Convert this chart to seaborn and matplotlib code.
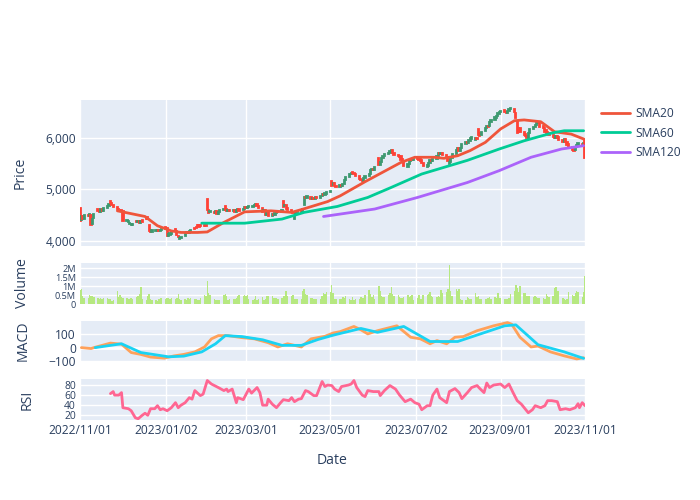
import numpy as np
import pandas as pd
import matplotlib
matplotlib.use('Agg')
import matplotlib.pyplot as plt
from matplotlib.lines import Line2D
import seaborn as sns

# --- dati (giorni lavorativi 2022-11-01 .. 2023-11-01) ---
dates = pd.bdate_range('2022-11-01', '2023-11-01')

open_ = [
    4640, 4400, 4480, 4430,
    4500, 4470, 4500, 4320, 4440,  4620, 4570, 4550, 4610, 4580,
    4640, 4670, 4770, 4740, 4690,  4660, 4610, 4600, 4590, 4580,
    4380, 4370, 4330, 4300, 4310,  4380, 4360, 4390, 4350, 4400,
    4440, 4460, 4300, 4200, 4170,  4180, 4190, 4200, 4190, 4210,
    4260, 4240, 4100, 4120, 4130,  4220, 4180, 4090, 4030, 4050,
    4100, 4140, 4160, 4140, 4180,  4250, 4260, 4300, 4300, 4300,
    4310, 4300, 4800, 4600, 4550,  4560, 4530, 4570, 4520, 4560,
    4600, 4680, 4610, 4580, 4600,  4570, 4600, 4560, 4590, 4610,
    4590, 4620, 4660, 4630, 4660,  4650, 4670, 4690, 4710, 4680,
    4640, 4580, 4600, 4500, 4560,  4480, 4520, 4500, 4540, 4570,
    4560, 4770, 4680, 4700, 4630,  4590, 4560, 4430, 4490, 4550,
    4580, 4580, 4700, 4840, 4820,  4850, 4800, 4830, 4810, 4850,
    4830, 4870, 4900, 4880, 4910,  4940, 5160, 5080, 5120, 5060,
    5040, 5090, 5060, 5110, 5180,  5230, 5290, 5340, 5320, 5300,
    5250, 5200, 5180, 5150, 5210,  5250, 5300, 5370, 5400, 5380,
    5600, 5470, 5530, 5600, 5640,  5680, 5700, 5730, 5760, 5700,
    5670, 5650, 5640, 5580, 5540,  5440, 5480, 5540, 5580, 5560,
    5620, 5590, 5580, 5560, 5500,  5440, 5460, 5500, 5560, 5540,
    5580, 5650, 5700, 5680, 5710,  5660, 5620, 5480, 5520, 5600,
    5680, 5760, 5800, 5750, 5800,  5880, 5920, 5900, 5940, 5980,
    5960, 6000, 6170, 6100, 6050,  6130, 6180, 6220, 6220, 6300,
    6340, 6390, 6420, 6460, 6490,  6540, 6500, 6480, 6520, 6550,
    6560, 6480, 6330, 6190, 6180,  6110, 6080, 6040, 6000, 6100,
    6160, 6200, 6240, 6280, 6310,  6230, 6190, 6140, 6120, 6100,
    6060, 6040, 6000, 6030, 6010,  5960, 5910, 5970, 5920, 5870,
    5820, 5780, 5760, 5820, 5850,
    5880, 5850, 5980,
]
close = [
    4390, 4480, 4430, 4500,
    4470, 4520, 4310, 4430, 4520,  4570, 4550, 4610, 4580, 4640,
    4670, 4720, 4740, 4690, 4660,  4610, 4570, 4590, 4570, 4390,
    4400, 4380, 4350, 4330, 4330,  4360, 4390, 4350, 4380, 4370,
    4430, 4420, 4180, 4160, 4200,  4200, 4210, 4190, 4200, 4230,
    4220, 4100, 4130, 4150, 4160,  4180, 4120, 4070, 4060, 4080,
    4150, 4170, 4140, 4180, 4210,  4230, 4240, 4280, 4270, 4290,
    4280, 4290, 4590, 4540, 4570,  4530, 4570, 4520, 4560, 4600,
    4620, 4600, 4580, 4600, 4570,  4600, 4560, 4590, 4610, 4580,
    4620, 4650, 4630, 4660, 4680,  4670, 4700, 4710, 4680, 4640,
    4560, 4600, 4500, 4540, 4480,  4520, 4490, 4540, 4570, 4550,
    4590, 4650, 4700, 4620, 4590,  4560, 4540, 4480, 4560, 4580,
    4560, 4620, 4840, 4820, 4860,  4800, 4830, 4810, 4850, 4830,
    4870, 4900, 4880, 4920, 4950,  4970, 5070, 5120, 5060, 5040,
    5090, 5060, 5110, 5180, 5230,  5290, 5320, 5310, 5290, 5250,
    5200, 5170, 5150, 5210, 5250,  5300, 5370, 5400, 5380, 5430,
    5470, 5530, 5600, 5640, 5680,  5700, 5740, 5770, 5700, 5660,
    5640, 5620, 5570, 5540, 5460,  5480, 5540, 5580, 5560, 5590,
    5580, 5570, 5540, 5500, 5460,  5470, 5500, 5560, 5540, 5580,
    5650, 5700, 5680, 5710, 5660,  5600, 5540, 5520, 5600, 5680,
    5760, 5800, 5750, 5800, 5880,  5920, 5900, 5960, 5990, 6010,
    6000, 5970, 6060, 6040, 6120,  6190, 6230, 6200, 6300, 6350,
    6400, 6430, 6470, 6500, 6520,  6490, 6470, 6520, 6560, 6570,
    6490, 6390, 6090, 6120, 6110,  6060, 6030, 6000, 6100, 6160,
    6210, 6250, 6290, 6300, 6210,  6180, 6120, 6100, 6080, 6050,
    6020, 6000, 6030, 5990, 5950,  5910, 5980, 5920, 5860, 5800,
    5770, 5750, 5820, 5860, 5890,
    5840, 5900, 5610,
]
volume_m = [
    0.77, 0.86, 0.47, 0.36,
    0.36, 0.50, 0.45, 0.45, 0.40,  0.35, 0.30, 0.32, 0.30, 0.33,
    0.32, 0.30, 0.30, 0.15, 0.20,  0.74, 0.40, 0.50, 0.40, 0.35,
    0.35, 0.30, 0.30, 0.35, 0.30,  0.40, 0.45, 0.55, 0.95, 0.30,
    0.25, 0.45, 0.55, 0.30, 0.20,  0.20, 0.15, 0.30, 0.32, 0.35,
    0.30, 0.35, 0.32, 0.30, 0.35,  0.30, 0.35, 0.55, 0.30, 0.25,
    0.30, 0.25, 0.35, 0.30, 0.35,  0.30, 0.30, 0.20, 0.25, 0.35,
    0.50, 0.45, 1.26, 0.60, 0.50,  0.30, 0.25, 0.20, 0.20, 0.25,
    0.50, 0.55, 0.45, 0.25, 0.30,  0.30, 0.30, 0.35, 0.45, 0.50,
    0.45, 0.50, 0.45, 0.50, 0.30,  0.25, 0.30, 0.45, 0.25, 0.30,
    0.40, 0.20, 0.30, 0.45, 0.45,  0.45, 0.35, 0.35, 0.35, 0.30,
    0.35, 0.45, 0.45, 0.70, 0.45,  0.45, 0.50, 0.30, 0.30, 0.30,
    0.30, 0.70, 0.85, 0.55, 0.50,  0.35, 0.35, 0.30, 0.30, 0.30,
    0.30, 0.45, 0.60, 0.55, 0.65,  0.65, 1.04, 0.60, 0.30, 0.30,
    0.30, 0.30, 0.40, 0.35, 0.45,  0.30, 0.20, 0.40, 0.25, 0.30,
    0.30, 0.40, 0.35, 0.35, 0.50,  0.80, 0.55, 0.40, 0.50, 0.30,
    1.00, 0.75, 0.45, 0.40, 0.40,  0.50, 0.60, 0.95, 0.55, 0.45,
    0.50, 0.40, 0.35, 0.35, 0.40,  0.50, 0.40, 0.45, 0.50, 0.25,
    0.35, 0.50, 0.30, 0.30, 0.50,  0.50, 0.55, 0.65, 0.45, 0.40,
    0.40, 0.45, 0.40, 0.80, 0.60,  0.65, 0.85, 2.15, 0.70, 0.45,
    0.85, 0.70, 0.85, 0.30, 0.25,  0.25, 0.40, 0.35, 0.30, 0.30,
    0.60, 0.40, 0.45, 0.30, 0.30,  0.30, 0.30, 0.35, 0.40, 0.30,
    0.40, 0.35, 0.60, 0.35, 0.35,  0.30, 0.30, 0.30, 0.35, 0.55,
    0.75, 1.05, 0.90, 0.65, 1.00,  0.60, 0.60, 0.45, 0.45, 0.45,
    0.40, 0.45, 0.40, 0.35, 0.35,  0.35, 0.30, 0.55, 0.45, 0.40,
    0.45, 0.90, 0.95, 0.70, 0.75,  0.35, 0.30, 0.25, 0.30, 0.65,
    0.50, 0.45, 0.60, 0.75, 0.65,
    0.40, 0.65, 1.55,
]

# medie mobili
sma20_dates = ['2022-11-28', '2022-12-18', '2022-12-27', '2023-01-06', '2023-01-13', '2023-01-25',
               '2023-02-01', '2023-02-13', '2023-02-28', '2023-03-19', '2023-04-03', '2023-04-12',
               '2023-04-29', '2023-05-08', '2023-05-26', '2023-06-21', '2023-07-01', '2023-07-15',
               '2023-07-22', '2023-08-01', '2023-08-10', '2023-08-21', '2023-09-01', '2023-09-11',
               '2023-09-18', '2023-09-30', '2023-10-10', '2023-10-22', '2023-10-31']
sma20 = [4580, 4470, 4290, 4190, 4160, 4160, 4170, 4355, 4560, 4580, 4550, 4620, 4760, 4870, 5145,
         5520, 5620, 5620, 5600, 5650, 5750, 5910, 6170, 6330, 6345, 6310, 6115, 6070, 5975]
sma60_dates = ['2023-01-28', '2023-02-28', '2023-03-27', '2023-04-12', '2023-05-06', '2023-05-28',
               '2023-06-14', '2023-07-06', '2023-08-08', '2023-08-31', '2023-09-18', '2023-10-08',
               '2023-10-17', '2023-10-31']
sma60 = [4340, 4340, 4420, 4550, 4665, 4840, 5035, 5295, 5560, 5780, 5940, 6090, 6135, 6135]
sma120_dates = ['2023-04-26', '2023-06-02', '2023-07-03', '2023-08-08', '2023-08-31', '2023-09-23',
                '2023-10-15', '2023-10-31']
sma120 = [4470, 4615, 4840, 5130, 5360, 5620, 5780, 5845]

# MACD e linea di segnale
macd_dates = ['2022-11-02', '2022-11-09', '2022-11-11', '2022-11-23', '2022-12-01', '2022-12-08',
              '2022-12-15', '2022-12-22', '2023-01-01', '2023-01-08', '2023-01-15', '2023-01-23',
              '2023-01-30', '2023-02-04', '2023-02-09', '2023-02-16', '2023-02-26', '2023-03-07',
              '2023-03-17', '2023-03-24', '2023-03-31', '2023-04-10', '2023-04-17', '2023-04-27',
              '2023-05-03', '2023-05-08', '2023-05-18', '2023-05-23', '2023-05-28', '2023-06-04',
              '2023-06-18', '2023-06-28', '2023-07-05', '2023-07-12', '2023-07-17', '2023-07-24',
              '2023-07-30', '2023-08-05', '2023-08-15', '2023-08-27', '2023-09-06', '2023-09-09',
              '2023-09-15', '2023-09-23', '2023-09-28', '2023-10-07', '2023-10-17', '2023-10-26',
              '2023-10-31']
macd = [0, -7, 0, 34, 26, -37, -51, -71, -79, -62, -51, -32, 5, 66, 90, 90, 75, 66, 37, 5, 29, 5,
        66, 85, 110, 120, 159, 134, 103, 127, 164, 78, 66, 29, 53, 29, 78, 83, 127, 164, 188, 176,
        78, 5, 12, -32, -62, -85, -76]
signal_dates = ['2022-11-12', '2022-12-01', '2022-12-15', '2023-01-04', '2023-01-15', '2023-01-28',
                '2023-02-07', '2023-02-14', '2023-02-26', '2023-03-13', '2023-03-27', '2023-04-10',
                '2023-04-22', '2023-05-04', '2023-05-23', '2023-06-04', '2023-06-23', '2023-07-12',
                '2023-08-01', '2023-09-04', '2023-09-12', '2023-09-28', '2023-10-17', '2023-10-31']
signal = [0, 29, -37, -69, -64, -32, 29, 90, 83, 59, 17, 17, 61, 96, 144, 115, 159, 46, 46, 164,
          171, 22, -32, -81]

# RSI
rsi_dates = ['2022-11-23', '2022-11-25', '2022-11-26', '2022-11-29', '2022-12-01', '2022-12-02',
             '2022-12-06', '2022-12-08', '2022-12-11', '2022-12-13', '2022-12-16', '2022-12-18',
             '2022-12-20', '2022-12-22', '2022-12-25', '2022-12-27', '2022-12-29', '2022-12-31',
             '2023-01-03', '2023-01-06', '2023-01-09', '2023-01-11', '2023-01-13', '2023-01-16',
             '2023-01-19', '2023-01-21', '2023-01-23', '2023-01-27', '2023-01-29', '2023-02-01',
             '2023-02-04', '2023-02-09', '2023-02-13', '2023-02-15', '2023-02-16', '2023-02-19',
             '2023-02-22', '2023-02-23', '2023-02-27', '2023-03-03', '2023-03-05', '2023-03-09',
             '2023-03-11', '2023-03-13', '2023-03-16', '2023-03-17', '2023-03-20', '2023-03-23',
             '2023-03-26', '2023-03-28', '2023-04-01', '2023-04-03', '2023-04-05', '2023-04-08',
             '2023-04-10', '2023-04-13', '2023-04-15', '2023-04-19', '2023-04-21', '2023-04-25',
             '2023-04-27', '2023-04-29', '2023-05-02', '2023-05-04', '2023-05-07', '2023-05-09',
             '2023-05-14', '2023-05-16', '2023-05-18', '2023-05-20', '2023-05-24', '2023-05-26',
             '2023-05-28', '2023-06-01', '2023-06-05', '2023-06-06', '2023-06-09', '2023-06-13',
             '2023-06-17', '2023-06-20', '2023-06-24', '2023-06-28', '2023-07-01', '2023-07-04',
             '2023-07-06', '2023-07-10', '2023-07-12', '2023-07-14', '2023-07-17', '2023-07-19',
             '2023-07-22', '2023-07-24', '2023-07-26', '2023-07-30', '2023-08-02', '2023-08-04',
             '2023-08-08', '2023-08-11', '2023-08-15', '2023-08-17', '2023-08-20', '2023-08-22',
             '2023-08-24', '2023-08-27', '2023-09-01', '2023-09-04', '2023-09-07', '2023-09-10',
             '2023-09-13', '2023-09-16', '2023-09-21', '2023-09-24', '2023-09-26', '2023-09-30',
             '2023-10-03', '2023-10-05', '2023-10-08', '2023-10-12', '2023-10-14', '2023-10-18',
             '2023-10-21', '2023-10-25', '2023-10-27', '2023-10-28', '2023-10-30', '2023-11-01']
rsi = [63, 67, 60, 60, 65, 35, 33, 29, 15, 13, 20, 24, 20, 33, 33, 39, 31, 33, 29, 35, 45, 35, 40,
       45, 55, 52, 69, 59, 62, 89, 82, 75, 69, 72, 67, 72, 45, 55, 51, 72, 64, 75, 65, 40, 40, 52,
       42, 35, 45, 51, 49, 55, 47, 52, 53, 69, 67, 59, 59, 87, 77, 80, 79, 72, 67, 77, 80, 82, 89,
       75, 60, 57, 69, 67, 67, 59, 69, 79, 72, 60, 47, 52, 45, 42, 31, 39, 39, 60, 72, 55, 49, 45,
       67, 73, 65, 53, 65, 75, 79, 73, 65, 84, 75, 80, 82, 75, 82, 65, 49, 42, 25, 31, 39, 35, 39,
       49, 49, 47, 31, 33, 31, 35, 43, 35, 45, 39]

tick_dates = ['2022-11-01', '2023-01-02', '2023-03-01', '2023-05-01', '2023-07-02', '2023-09-01', '2023-11-01']
tick_labels = ['2022/11/01', '2023/01/02', '2023/03/01', '2023/05/01', '2023/07/02', '2023/09/01', '2023/11/01']

# --- stile ---
sns.set_style('darkgrid', {'axes.facecolor': '#E5ECF6', 'grid.color': 'white'})
plt.rcParams['font.family'] = ['Open Sans', 'DejaVu Sans']
TXT = '#2a3f5f'
FS = 8.64   # 12px
FST = 10.08  # 14px

fig = plt.figure(figsize=(7, 5), dpi=100)
W, H = 700, 500


def box(x0, y0, x1, y1):
    return [x0 / W, 1 - y1 / H, (x1 - x0) / W, (y1 - y0) / H]


ax_p = fig.add_axes(box(80, 100, 585, 246))
ax_v = fig.add_axes(box(80, 263, 585, 304), sharex=ax_p)
ax_m = fig.add_axes(box(80, 321, 585, 362), sharex=ax_p)
ax_r = fig.add_axes(box(80, 379, 585, 420), sharex=ax_p)

o = np.array(open_, dtype=float)
c = np.array(close, dtype=float)
up = c >= o
colors = np.where(up, '#3D9970', '#FF4136')

# candele
ax_p.bar(dates, c - o, bottom=o, width=0.9, color=colors, edgecolor=colors, linewidth=1.3, zorder=2)

sma_col = ['#EF553B', '#00CC96', '#AB63FA']
sns.lineplot(x=pd.to_datetime(sma20_dates), y=sma20, ax=ax_p, color=sma_col[0], linewidth=2, zorder=3)
sns.lineplot(x=pd.to_datetime(sma60_dates), y=sma60, ax=ax_p, color=sma_col[1], linewidth=2, zorder=3)
sns.lineplot(x=pd.to_datetime(sma120_dates), y=sma120, ax=ax_p, color=sma_col[2], linewidth=2, zorder=3)

# volume
ax_v.bar(dates, volume_m, width=1.0, color='#B6E880', linewidth=0, zorder=2)

# MACD
ax_m.axhline(0, color='white', linewidth=2, zorder=1)
sns.lineplot(x=pd.to_datetime(macd_dates), y=macd, ax=ax_m, color='#FFA15A', linewidth=2, zorder=3)
sns.lineplot(x=pd.to_datetime(signal_dates), y=signal, ax=ax_m, color='#19D3F3', linewidth=2, zorder=4)

# RSI
sns.lineplot(x=pd.to_datetime(rsi_dates), y=rsi, ax=ax_r, color='#FF6692', linewidth=2, zorder=3)

# assi
ax_p.set_xlim(pd.Timestamp('2022-11-01'), pd.Timestamp('2023-11-01'))
ax_p.set_ylim(3897, 6732)
ax_p.set_yticks([4000, 5000, 6000])
ax_p.set_yticklabels(['4,000', '5,000', '6,000'])
ax_v.set_ylim(0, 2.28)
ax_v.set_yticks([0, 0.5, 1, 1.5, 2])
ax_v.set_yticklabels(['0', '0.5M', '1M', '1.5M', '2M'])
ax_m.set_ylim(-108, 200)
ax_m.set_yticks([-100, 0, 100])
ax_m.set_yticklabels(['\u2212100', '0', '100'])
ax_r.set_ylim(10.6, 92)
ax_r.set_yticks([20, 40, 60, 80])
ax_r.set_yticklabels(['20', '40', '60', '80'])

ax_r.set_xticks(pd.to_datetime(tick_dates))
ax_r.set_xticklabels(tick_labels)

for ax in [ax_p, ax_v, ax_m, ax_r]:
    ax.grid(True, color='white', linewidth=1)
    ax.set_axisbelow(True)
    ax.set_xlabel('')
    ax.set_ylabel('')
    for s in ax.spines.values():
        s.set_visible(False)
    ax.tick_params(axis='both', length=0, labelsize=FS, labelcolor=TXT, pad=3)
    if ax is not ax_r:
        ax.tick_params(axis='x', labelbottom=False)

# etichette fitte: un po' più piccole per non sovrapporsi
ax_v.tick_params(axis='y', labelsize=6.6)
ax_r.tick_params(axis='y', labelsize=7.4)

# titoli degli assi
fig.text(20 / W, 1 - 173 / H, 'Price', rotation=90, ha='center', va='center', fontsize=FST, color=TXT)
fig.text(23 / W, 1 - 283 / H, 'Volume', rotation=90, ha='center', va='center', fontsize=FST, color=TXT)
fig.text(23 / W, 1 - 341 / H, 'MACD', rotation=90, ha='center', va='center', fontsize=FST, color=TXT)
fig.text(27 / W, 1 - 400 / H, 'RSI', rotation=90, ha='center', va='center', fontsize=FST, color=TXT)
fig.text(332 / W, 1 - 460 / H, 'Date', ha='center', va='center', fontsize=FST, color=TXT)

# legenda
handles = [Line2D([0], [0], color=col, linewidth=2) for col in sma_col]
fig.legend(handles, ['SMA20', 'SMA60', 'SMA120'], loc='upper left', bbox_to_anchor=(601 / W, 1 - 107 / H),
           frameon=False, borderpad=0, borderaxespad=0, handlelength=2.4, handletextpad=0.5,
           labelspacing=0.55, fontsize=FS, labelcolor=TXT)

fig.savefig('out.png', dpi=100)
